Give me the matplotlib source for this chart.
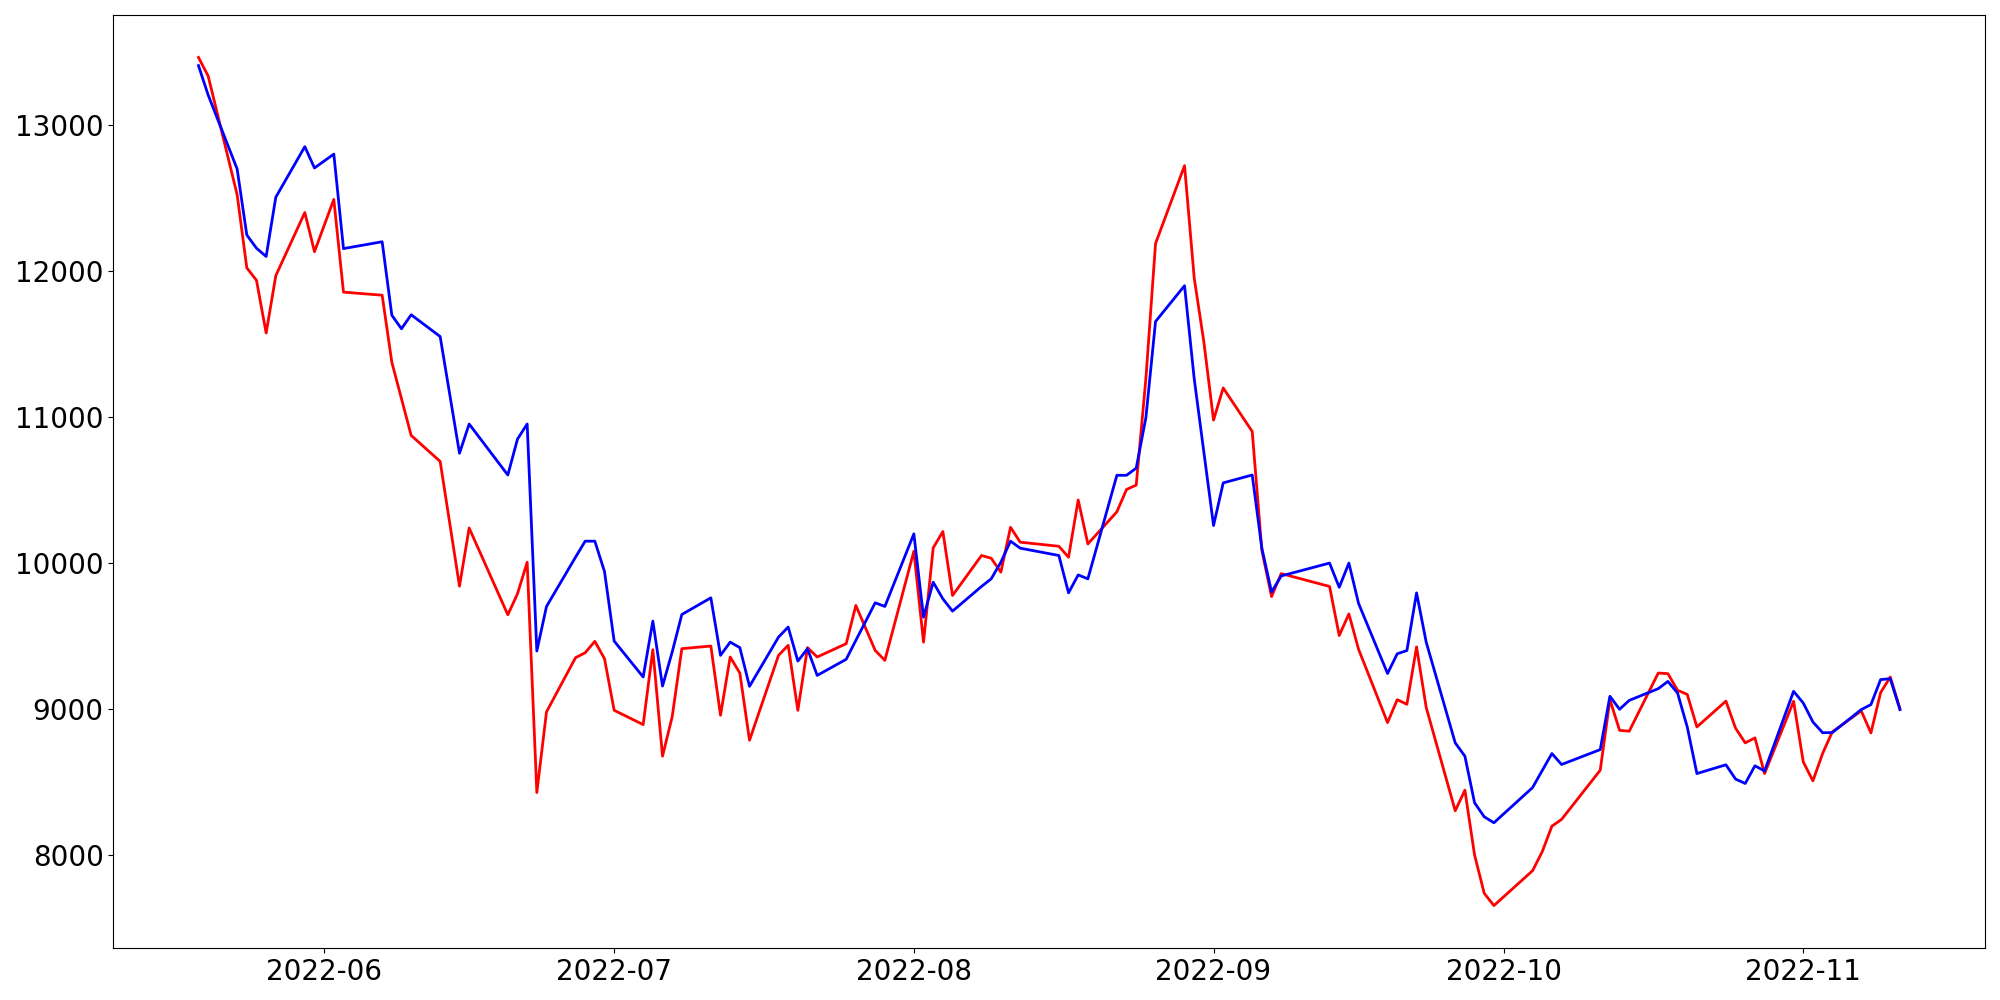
import pandas as pd
import matplotlib
matplotlib.use("Agg")
import matplotlib.pyplot as plt
import matplotlib.dates as mdates


dates = [
    "2022-05-19", "2022-05-20", "2022-05-23", "2022-05-24", "2022-05-25", "2022-05-26", "2022-05-27",
    "2022-05-30", "2022-05-31", "2022-06-02", "2022-06-03", "2022-06-07", "2022-06-08", "2022-06-09",
    "2022-06-10", "2022-06-13", "2022-06-15", "2022-06-16", "2022-06-20", "2022-06-21", "2022-06-22",
    "2022-06-23", "2022-06-24", "2022-06-27", "2022-06-28", "2022-06-29", "2022-06-30", "2022-07-01",
    "2022-07-04", "2022-07-05", "2022-07-06", "2022-07-07", "2022-07-08", "2022-07-11", "2022-07-12",
    "2022-07-13", "2022-07-14", "2022-07-15", "2022-07-18", "2022-07-19", "2022-07-20", "2022-07-21",
    "2022-07-22", "2022-07-25", "2022-07-26", "2022-07-28", "2022-07-29", "2022-08-01", "2022-08-02",
    "2022-08-03", "2022-08-04", "2022-08-05", "2022-08-08", "2022-08-09", "2022-08-10", "2022-08-11",
    "2022-08-12", "2022-08-16", "2022-08-17", "2022-08-18", "2022-08-19", "2022-08-22", "2022-08-23",
    "2022-08-24", "2022-08-25", "2022-08-26", "2022-08-29", "2022-08-30", "2022-08-31", "2022-09-01",
    "2022-09-02", "2022-09-05", "2022-09-06", "2022-09-07", "2022-09-08", "2022-09-13", "2022-09-14",
    "2022-09-15", "2022-09-16", "2022-09-19", "2022-09-20", "2022-09-21", "2022-09-22", "2022-09-23",
    "2022-09-26", "2022-09-27", "2022-09-28", "2022-09-29", "2022-09-30", "2022-10-04", "2022-10-05",
    "2022-10-06", "2022-10-07", "2022-10-11", "2022-10-12", "2022-10-13", "2022-10-14", "2022-10-17",
    "2022-10-18", "2022-10-19", "2022-10-20", "2022-10-21", "2022-10-24", "2022-10-25", "2022-10-26",
    "2022-10-27", "2022-10-28", "2022-10-31", "2022-11-01", "2022-11-02", "2022-11-03", "2022-11-04",
    "2022-11-07", "2022-11-08", "2022-11-09", "2022-11-10", "2022-11-11",
]

red_values = [
    13461, 13334, 12521, 12020, 11935, 11574, 11967,
    12399, 12131, 12489, 11854, 11833, 11374, 11124,
    10873, 10695, 9841, 10239, 9645, 9789, 10005,
    8428, 8980, 9351, 9385, 9463, 9344, 8991,
    8893, 9406, 8677, 8946, 9413, 9431, 8957,
    9356, 9246, 8786, 9367, 9436, 8991, 9420,
    9356, 9447, 9709, 9401, 9333, 10080, 9458,
    10103, 10215, 9777, 10051, 10032, 9937, 10244,
    10142, 10114, 10039, 10431, 10130, 10350, 10503,
    10533, 11261, 12187, 12720, 11951, 11512, 10978,
    11198, 10900, 10084, 9770, 9927, 9839, 9503,
    9651, 9409, 8907, 9064, 9032, 9425, 9010,
    8303, 8444, 8000, 7738, 7654, 7893, 8023,
    8198, 8244, 8581, 9064, 8854, 8848, 9246,
    9242, 9128, 9100, 8877, 9054, 8868, 8768,
    8802, 8558, 9053, 8638, 8508, 8695, 8843,
    8987, 8836, 9112, 9219, 9003,
]

blue_values = [
    13405, 13204, 12697, 12245, 12155, 12098, 12504,
    12850, 12704, 12799, 12152, 12199, 11696, 11603,
    11699, 11550, 10751, 10951, 10602, 10848, 10951,
    9397, 9702, 10039, 10149, 10149, 9941, 9465,
    9219, 9602, 9157, 9390, 9647, 9761, 9367,
    9458, 9420, 9155, 9492, 9561, 9328, 9413,
    9230, 9340, 9470, 9727, 9702, 10199, 9629,
    9868, 9754, 9670, 9839, 9891, 10005, 10149,
    10101, 10051, 9795, 9918, 9891, 10600, 10600,
    10649, 10994, 11653, 11898, 11261, 10758, 10256,
    10548, 10602, 10100, 9801, 9911, 9999, 9833,
    9999, 9723, 9243, 9378, 9400, 9795, 9457,
    8768, 8677, 8358, 8262, 8221, 8462, 8579,
    8695, 8620, 8722, 9087, 8998, 9059, 9139,
    9189, 9109, 8877, 8558, 8618, 8520, 8490,
    8611, 8576, 9121, 9041, 8911, 8838, 8838,
    8996, 9030, 9201, 9208, 8996,
]


def plotDraw():
    x = pd.to_datetime(dates)

    fig, ax = plt.subplots(figsize=(20, 10), dpi=100)
    ax.plot(x, red_values, color="red", linewidth=2)
    ax.plot(x, blue_values, color="blue", linewidth=2)

    ax.xaxis.set_major_locator(mdates.MonthLocator())
    ax.xaxis.set_major_formatter(mdates.DateFormatter("%Y-%m"))
    ax.tick_params(axis="both", labelsize=20)

    fig.subplots_adjust(left=0.0567, right=0.9925, top=0.985, bottom=0.052)
    fig.savefig("out.png")


if __name__ == "__main__":
    plotDraw()
